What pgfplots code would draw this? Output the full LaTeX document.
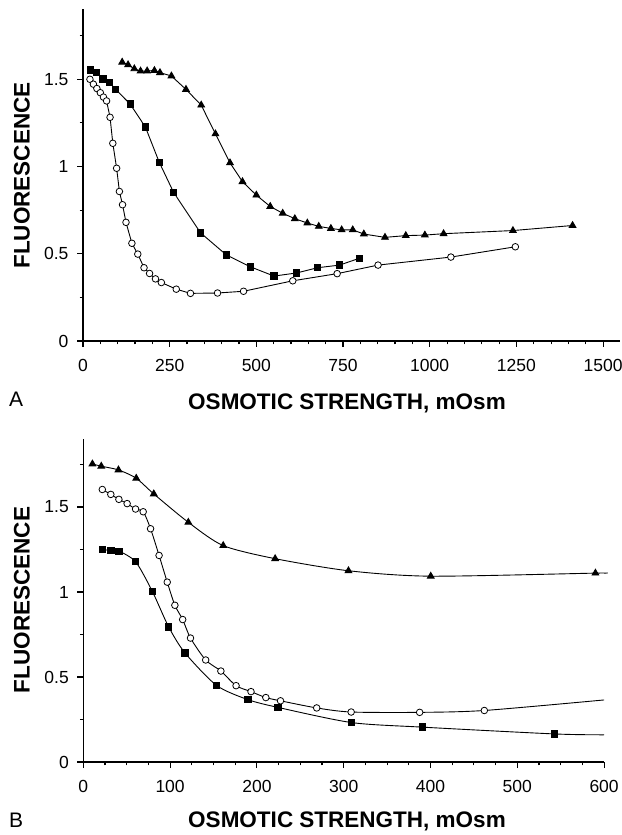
\documentclass[border=0pt]{standalone}
\usepackage{pgfplots}
\pgfplotsset{compat=1.18}
\usepackage{fontspec}
\setmainfont{Liberation Sans}

\pgfplotsset{
  osmo/.style={
    scale only axis,
    axis lines=left,
    axis line style={line width=1.4pt,-},
    tick align=outside,
    major tick length=6pt,
    minor tick length=3.5pt,
    every tick/.style={line width=1.1pt,black},
    tick label style={font=\fontsize{17.5}{20}\selectfont},
    xticklabel style={yshift=-9pt},
    yticklabel style={xshift=-5pt},
    /pgf/number format/assume math mode=true,
    /pgf/number format/1000 sep={},
    ymin=0, ymax=1.9,
    ytick={0,0.5,1,1.5},
    minor ytick={0.25,0.75,1.25,1.75},
    clip=false,
  },
  openc/.style={black, line width=0.9pt, mark=*, mark size=3.3pt,
    mark options={fill=white, line width=0.8pt}},
  fillsq/.style={black, line width=0.9pt, mark=square*, mark size=3.2pt,
    mark options={fill=black}},
  filltri/.style={black, line width=0.9pt, mark=triangle*, mark size=3.8pt,
    mark options={fill=black}},
}

\newcommand{\labfont}{\bfseries\fontsize{22.5}{26}\selectfont}

\begin{document}
\begin{tikzpicture}
\useasboundingbox (0pt,0pt) rectangle (621pt,835pt);

% ---------------- Panel A ----------------
\begin{axis}[osmo,
  at={(83pt,494pt)}, anchor=south west,
  width=537.4pt, height=331.5pt,
  xmin=0, xmax=1550,
  xtick={0,250,500,750,1000,1250,1500},
  minor x tick num=4,
]
\addplot[filltri] coordinates {
 (113,1.598) (130,1.583) (148,1.560) (166,1.547) (185,1.548) (206,1.550)
 (222,1.538) (255,1.519) (297,1.442) (341,1.352) (382,1.187) (424,1.021)
 (460,0.913) (500,0.836) (540,0.771) (576,0.732) (611,0.701) (647,0.676)
 (680,0.657) (715,0.645) (746,0.637) (778,0.637) (810,0.613) (871,0.594)
 (931,0.604) (986,0.607) (1040,0.615) (1240,0.633) (1412,0.662)
};
\addplot[fillsq] coordinates {
 (22,1.553) (38,1.538) (58,1.503) (76,1.483) (94,1.442) (136,1.358)
 (180,1.226) (220,1.024) (261,0.853) (339,0.620) (413,0.494) (483,0.425)
 (551,0.372) (616,0.390) (677,0.420) (740,0.435) (797,0.474)
};
\addplot[openc] coordinates {
 (20,1.500) (30,1.472) (40,1.447) (50,1.423) (59,1.398) (68,1.376)
 (78,1.282) (86,1.133) (97,0.990) (105,0.857) (114,0.781) (124,0.680)
 (141,0.560) (158,0.498) (176,0.420) (192,0.387) (209,0.356) (226,0.335)
 (269,0.297) (310,0.273) (388,0.275) (463,0.285) (605,0.345) (733,0.386)
 (851,0.435) (1061,0.481) (1247,0.540)
};
\end{axis}

% ---------------- Panel B ----------------
\begin{axis}[osmo,
  at={(83.3pt,73pt)}, anchor=south west,
  width=520.8pt, height=323pt,
  xmin=0, xmax=600,
  xtick={0,100,200,300,400,500,600},
  minor x tick num=3,
]
% fitted curves
\addplot[black, line width=0.9pt, smooth, tension=0.45, no marks] coordinates {
 (10.5,1.753) (20.7,1.740) (40.5,1.718) (61,1.669) (81.2,1.577) (121,1.410)
 (161.2,1.273) (221,1.196) (305.5,1.125) (400.3,1.093) (590,1.111) (600,1.111)
};
\addplot[black, line width=0.9pt, smooth, tension=0.45, no marks] coordinates {
 (21.9,1.603) (31.7,1.574) (41,1.545) (50.5,1.520) (60.2,1.488) (69,1.472)
 (77.5,1.372) (87.3,1.215) (96.7,1.058) (105.5,0.922) (114.5,0.838)
 (123.5,0.729) (141,0.600) (158.5,0.535) (176,0.449) (193.2,0.414)
 (210.3,0.379) (227.2,0.360) (268.9,0.318) (308.6,0.294) (387.5,0.292)
 (462,0.303) (600,0.365)
};
\addplot[black, line width=0.9pt, smooth, tension=0.45, no marks] coordinates {
 (21.8,1.250) (31.8,1.244) (41,1.240) (60.3,1.178) (79.7,1.002) (98.3,0.795)
 (117.1,0.642) (153.4,0.451) (189.6,0.367) (224.4,0.321) (309,0.232)
 (390.7,0.205) (543,0.165) (600,0.160)
};
% measured points
\addplot[filltri, only marks] coordinates {
 (10.5,1.753) (20.7,1.740) (40.5,1.718) (61,1.669) (81.2,1.577) (121,1.410)
 (161.2,1.273) (221,1.196) (305.5,1.125) (400.3,1.093) (590,1.111)
};
\addplot[openc, only marks] coordinates {
 (21.9,1.603) (31.7,1.574) (41,1.545) (50.5,1.520) (60.2,1.488) (69,1.472)
 (77.5,1.372) (87.3,1.215) (96.7,1.058) (105.5,0.922) (114.5,0.838)
 (123.5,0.729) (141,0.600) (158.5,0.535) (176,0.449) (193.2,0.414)
 (210.3,0.379) (227.2,0.360) (268.9,0.318) (308.6,0.294) (387.5,0.292)
 (462,0.303)
};
\addplot[fillsq, only marks] coordinates {
 (21.8,1.250) (31.8,1.244) (41,1.240) (60.3,1.178) (79.7,1.002) (98.3,0.795)
 (117.1,0.642) (153.4,0.451) (189.6,0.367) (224.4,0.321) (309,0.232)
 (390.7,0.205) (543,0.165)
};
\end{axis}

% axis titles and panel letters
\node[rotate=90, font=\labfont] at (22pt,659.5pt) {FLUORESCENCE};
\node[rotate=90, font=\labfont] at (22pt,235pt) {FLUORESCENCE};
\node[anchor=base, font=\labfont, inner sep=0pt] at (347pt,425pt) {OSMOTIC STRENGTH, mOsm};
\node[anchor=base, font=\labfont, inner sep=0pt] at (347pt,7pt) {OSMOTIC STRENGTH, mOsm};
\node[anchor=base west, inner sep=0pt, font=\fontsize{21}{24}\selectfont] at (9pt,428pt) {A};
\node[anchor=base west, inner sep=0pt, font=\fontsize{21}{24}\selectfont] at (9pt,8pt) {B};
\end{tikzpicture}
\end{document}
